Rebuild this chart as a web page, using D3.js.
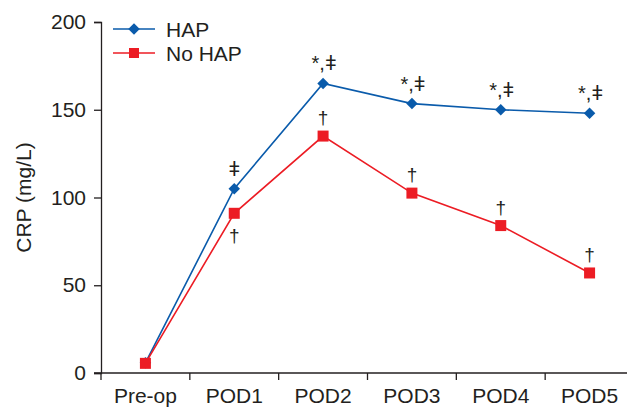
<!DOCTYPE html>
<html>
<head>
<meta charset="utf-8">
<script src="https://cdn.jsdelivr.net/npm/d3@7"></script>
<style>
  body { margin: 0; background: #fff; }
  text { font-family: Arial, "Liberation Sans", sans-serif; fill: #231f20; }
</style>
</head>
<body>
<svg id="chart"></svg>
<script>
const categories = ['Pre-op', 'POD1', 'POD2', 'POD3', 'POD4', 'POD5'];
const hapValues = [5.8, 105, 165, 153.5, 150, 148];
const noHapValues = [5.5, 91, 135, 102.5, 84, 57];
const hapMarks = ['', 'ǂ', '*,ǂ', '*,ǂ', '*,ǂ', '*,ǂ'];
const noHapMarks = ['', '†', '†', '†', '†', '†'];
const yTicks = [0, 50, 100, 150, 200];

const width = 627;
const height = 407;
const margin = { top: 22, right: -7, bottom: 34, left: 101 };

const svg = d3.select('#chart')
  .attr('width', width)
  .attr('height', height);

const x = d3.scaleBand()
  .domain(categories)
  .range([margin.left, width - margin.right]);

const y = d3.scaleLinear()
  .domain([0, 200])
  .range([height - margin.bottom, margin.top]);

const blue = '#0a5bab';
const red = '#ec1c24';
const ink = '#231f20';

// y axis
const yAxis = svg.append('g')
  .attr('transform', `translate(${margin.left},0)`)
  .call(d3.axisLeft(y).tickValues(yTicks).tickSize(7).tickPadding(8));
yAxis.select('.domain').attr('stroke', ink).attr('stroke-width', 1.3);
yAxis.selectAll('.tick line').attr('stroke', ink).attr('stroke-width', 1.3);
yAxis.selectAll('.tick text').style('font-size', '21px').attr('fill', ink);

// x axis: ticks at band boundaries
const xAxisG = svg.append('g')
  .attr('transform', `translate(0,${y(0)})`);
xAxisG.append('line')
  .attr('x1', margin.left - 7)
  .attr('x2', width)
  .attr('stroke', ink)
  .attr('stroke-width', 1.3);
xAxisG.selectAll('.bound')
  .data(categories)
  .enter()
  .append('line')
  .attr('x1', d => x(d))
  .attr('x2', d => x(d))
  .attr('y1', 0)
  .attr('y2', 7)
  .attr('stroke', ink)
  .attr('stroke-width', 1.3);
xAxisG.selectAll('.lab')
  .data(categories)
  .enter()
  .append('text')
  .attr('x', d => x(d) + x.bandwidth() / 2)
  .attr('y', 30)
  .attr('text-anchor', 'middle')
  .style('font-size', '21px')
  .text(d => d);

// y label
svg.append('text')
  .attr('transform', `translate(31,${(y(0) + y(200)) / 2}) rotate(-90)`)
  .attr('text-anchor', 'middle')
  .style('font-size', '21px')
  .text('CRP (mg/L)');

const cx = d => x(d) + x.bandwidth() / 2;

const line = d3.line()
  .x(d => cx(d.c))
  .y(d => y(d.v));

const hapData = categories.map((c, i) => ({ c, v: hapValues[i], m: hapMarks[i] }));
const noHapData = categories.map((c, i) => ({ c, v: noHapValues[i], m: noHapMarks[i] }));

svg.append('path')
  .datum(hapData)
  .attr('fill', 'none')
  .attr('stroke', blue)
  .attr('stroke-width', 1.6)
  .attr('d', line);

svg.append('path')
  .datum(noHapData)
  .attr('fill', 'none')
  .attr('stroke', red)
  .attr('stroke-width', 1.6)
  .attr('d', line);

svg.selectAll('.hap')
  .data(hapData)
  .enter()
  .append('path')
  .attr('transform', d => `translate(${cx(d.c)},${y(d.v)}) rotate(45)`)
  .attr('d', d3.symbol().type(d3.symbolSquare).size(66))
  .attr('fill', blue);

svg.selectAll('.nohap')
  .data(noHapData)
  .enter()
  .append('rect')
  .attr('x', d => cx(d.c) - 5.5)
  .attr('y', d => y(d.v) - 5.5)
  .attr('width', 11)
  .attr('height', 11)
  .attr('fill', red);

// significance marks
svg.selectAll('.hapmark')
  .data(hapData.filter(d => d.m))
  .enter()
  .append('text')
  .attr('x', d => cx(d.c) + (d.m.length > 1 ? 1 : 0))
  .attr('y', d => y(d.v) - 13)
  .attr('text-anchor', 'middle')
  .style('font-size', '20px')
  .text(d => d.m);

svg.selectAll('.nohapmark')
  .data(noHapData.filter(d => d.m))
  .enter()
  .append('text')
  .attr('x', d => cx(d.c))
  .attr('y', d => d.c === 'POD1' ? y(d.v) + 29 : y(d.v) - 12)
  .attr('text-anchor', 'middle')
  .style('font-size', '19px')
  .text(d => d.m);

// legend
const legendItems = [
  { name: 'HAP', color: blue, kind: 'diamond' },
  { name: 'No HAP', color: red, kind: 'square' }
];
const legend = svg.selectAll('.legend')
  .data(legendItems)
  .enter()
  .append('g')
  .attr('transform', (d, i) => `translate(113,${29 + i * 24})`);
legend.append('line')
  .attr('x1', 0)
  .attr('x2', 42)
  .attr('stroke', d => d.color)
  .attr('stroke-width', 1.6);
legend.append('path')
  .attr('transform', d => d.kind === 'diamond' ? 'translate(21,0) rotate(45)' : 'translate(21,0)')
  .attr('d', d => d3.symbol().type(d3.symbolSquare).size(d.kind === 'diamond' ? 66 : 100)())
  .attr('fill', d => d.color);
legend.append('text')
  .attr('x', 53)
  .attr('y', 8)
  .style('font-size', '21px')
  .text(d => d.name);
</script>
</body>
</html>
